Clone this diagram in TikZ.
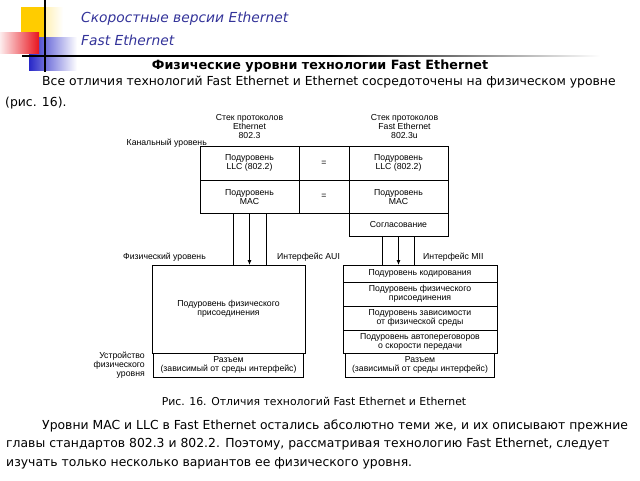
\documentclass[tikz,border=0pt]{standalone}
\usepackage{fontspec}
\setmainfont{DejaVu Sans}
\newfontfamily\diagfont{Liberation Sans}
\usetikzlibrary{positioning,arrows.meta}
\definecolor{headblue}{RGB}{51,51,153}
\definecolor{decoyellow}{RGB}{255,204,0}
\definecolor{decored}{RGB}{232,20,30}
\definecolor{decoblue}{RGB}{40,40,200}

\begin{document}
\begin{tikzpicture}[x=1pt,y=-1pt,
    layer/.style={draw,line width=0.8pt,outer sep=0pt,inner sep=0pt,align=center,
      font=\diagfont\fontsize{8.7}{9}\selectfont},
    lbl/.style={inner sep=0pt,font=\diagfont\fontsize{8.7}{9}\selectfont},
    iface/.style={line width=0.8pt},
    slide/.style={inner sep=0pt,anchor=base west,font=\fontsize{12.4}{14}\selectfont}]
    \useasboundingbox (0,0) rectangle (640,480);

    % Slide decoration
    \fill[decoyellow] (21,7) rectangle (44,37);
    \shade[left color=decoyellow!30,right color=white] (44,7) rectangle (63,37);
    \shade[left color=decoblue,middle color=decoblue,right color=white] (29,37) rectangle (77,70);
    \shade[left color=decored!8,right color=decored] (0,32) rectangle (39,53);
    \draw[line width=1.2pt] (45,0) -- (45,72);
    \draw[line width=1.2pt] (22,56) -- (330,56);
    \shade[left color=black,right color=white] (330,55.4) rectangle (600,56.6);

    % Headings
    \node[slide,text=headblue,font=\itshape\fontsize{13.8}{16}\selectfont] (sectTitle) at (81,22.7) {Скоростные версии Ethernet};
    \node[slide,text=headblue,font=\itshape\fontsize{13.8}{16}\selectfont] (subTitle) at (81,45) {Fast Ethernet};
    \node[inner sep=0pt,anchor=base,font=\bfseries\fontsize{12.75}{15}\selectfont] (pageTitle) at (320,69) {Физические уровни технологии Fast Ethernet};
    \node[slide] (introA) at (42,85.5) {Все отличия технологий Fast Ethernet и Ethernet сосредоточены на физическом уровне};
    \node[slide] (introB) at (5,106.5) {(рис. 16).};

    % Ethernet stack
    \node[layer,anchor=north west,minimum width=99pt,minimum height=33.3pt] (ethLLC) at (200,146.7) {Подуровень\\LLC (802.2)};
    \node[layer,below=0pt of ethLLC,minimum width=99pt,minimum height=33.3pt] (ethMAC) {Подуровень\\MAC};
    \node[layer,right=0pt of ethLLC,minimum width=50pt,minimum height=33.3pt] (eqLLC) {=};
    \node[layer,below=0pt of eqLLC,minimum width=50pt,minimum height=33.3pt] (eqMAC) {=};

    % Fast Ethernet stack
    \node[layer,right=0pt of eqLLC,minimum width=99pt,minimum height=33.3pt] (feLLC) {Подуровень\\LLC (802.2)};
    \node[layer,below=0pt of feLLC,minimum width=99pt,minimum height=33.3pt] (feMAC) {Подуровень\\MAC};
    \node[layer,below=0pt of feMAC,minimum width=99pt,minimum height=22.7pt] (feRS) {Согласование};

    % Physical level, Ethernet
    \node[layer,anchor=north west,minimum width=153pt,minimum height=88pt] (ethPMA) at (152,265) {Подуровень физического\\присоединения};
    \node[layer,below=0pt of ethPMA,minimum width=150pt,minimum height=24pt] (ethConn) {Разъем\\(зависимый от среды интерфейс)};

    % Physical level, Fast Ethernet
    \node[layer,anchor=north west,minimum width=154pt,minimum height=17pt] (fePCS) at (343,265) {Подуровень кодирования};
    \node[layer,below=0pt of fePCS,minimum width=154pt,minimum height=24pt] (fePMA) {Подуровень физического\\присоединения};
    \node[layer,below=0pt of fePMA,minimum width=154pt,minimum height=24pt] (fePMD) {Подуровень зависимости\\от физической среды};
    \node[layer,below=0pt of fePMD,minimum width=154pt,minimum height=23pt] (feAN) {Подуровень автопереговоров\\о скорости передачи};
    \node[layer,below=0pt of feAN,minimum width=149pt,minimum height=24pt] (feConn) {Разъем\\(зависимый от среды интерфейс)};

    % Interfaces
    \foreach \dx in {-16.5,16.5} {
      \draw[iface] ([xshift=\dx pt]ethMAC.south) -- ([xshift=\dx pt]ethMAC.south |- ethPMA.north);
    }
    \draw[iface,-{Latex[length=5pt,width=4pt]}] (ethMAC.south) -- (ethMAC.south |- ethPMA.north);
    \foreach \dx in {-16.5,15.5} {
      \draw[iface] ([xshift=\dx pt]feRS.south) -- ([xshift=\dx pt]feRS.south |- fePCS.north);
    }
    \draw[iface,-{Latex[length=5pt,width=4pt]}] (feRS.south) -- (feRS.south |- fePCS.north);

    % Labels
    \node[lbl,align=center,above=8pt of ethLLC] (ethHead) {Стек протоколов\\Ethernet\\802.3};
    \node[lbl,align=center,above=8pt of feLLC,xshift=6pt] (feHead) {Стек протоколов\\Fast Ethernet\\802.3u};
    \node[lbl,anchor=base east] (chanLbl) at (207,145) {Канальный уровень};
    \node[lbl,anchor=base west] (physLbl) at (123,259) {Физический уровень};
    \node[lbl,anchor=base west] (auiLbl) at (277,259) {Интерфейс AUI};
    \node[lbl,anchor=base west] (miiLbl) at (423,259) {Интерфейс MII};
    \node[lbl,align=right,anchor=east] (devLbl) at (145,365) {Устройство\\физического\\уровня};

    % Caption and closing text
    \node[inner sep=0pt,anchor=base,font=\fontsize{10.85}{12}\selectfont] (figCap) at (314,405) {Рис. 16. Отличия технологий Fast Ethernet и Ethernet};
    \node[slide] (outroA) at (42,429) {Уровни MAC и LLC в Fast Ethernet остались абсолютно теми же, и их описывают прежние};
    \node[slide] (outroB) at (6,447.5) {главы стандартов 802.3 и 802.2. Поэтому, рассматривая технологию Fast Ethernet, следует};
    \node[slide] (outroC) at (6,466) {изучать только несколько вариантов ее физического уровня.};
  \end{tikzpicture}
\end{document}
